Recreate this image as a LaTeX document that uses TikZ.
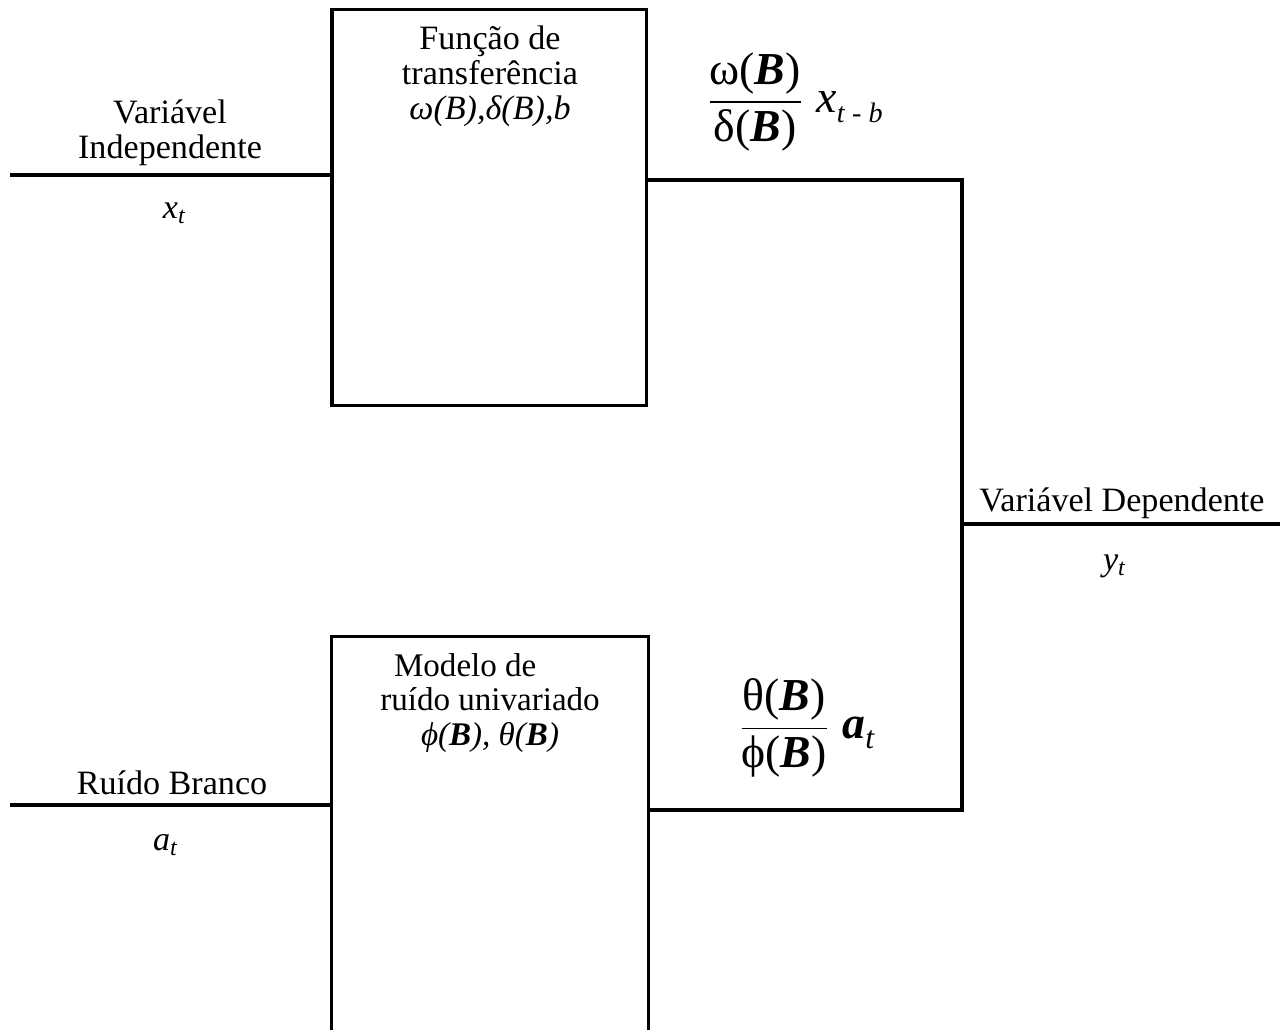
\documentclass[tikz,border=0pt]{standalone}
\usepackage{amsmath}
\usepackage{fontspec}
\setmainfont{Liberation Serif}
\usetikzlibrary{positioning}

\tikzset{
  blockbox/.style={draw, line width=0.9pt, inner sep=0pt},
  wire/.style={line width=0.9pt},
  lbl/.style={font=\fontsize{9.7}{10}\selectfont, align=center, inner sep=1pt},
  fraclbl/.style={font=\fontsize{13}{14}\selectfont, inner sep=1pt},
}
\newcommand{\bB}{\textbf{\textit{B}}}

\begin{document}
\begin{tikzpicture}[x=0.01cm, y=-0.01cm]
        % frame of the picture (the lower block runs off the bottom edge)
        \clip (0,0) rectangle (1280,1029);

        % 1. The two blocks
        \node[blockbox, minimum width=3.14cm, minimum height=3.95cm] (transf) at (489,207.5) {};
        \node[blockbox, minimum width=3.16cm, minimum height=4.63cm] (ruido) at (490,868.5) {};

        % 2. Free ends and corners of the wires
        \coordinate (xin) at (10,175);
        \coordinate (ain) at (10,805);
        \coordinate (topcorner) at (962,180);
        \coordinate (botcorner) at (962,810);
        \coordinate (junc) at (962,524);
        \coordinate (yout) at (1280,524);

        % 3. Wires
        \draw[wire] (xin) -- (xin -| transf.west);
        \draw[wire] (ain) -- (ain -| ruido.west);
        \draw[wire] (transf.east |- topcorner) -- (topcorner) -- (botcorner) -- (ruido.east |- botcorner);
        \draw[wire] (junc) -- (yout);

        % 4. Input and output labels
        \node[lbl] (xname) at (170,133) {Variável\\Independente};
        \node[lbl] (xt) at (175,213) {\textit{x}\textsubscript{\textit{t}}};
        \node[lbl] (aname) at (172,783) {Ruído Branco};
        \node[lbl] (at) at (166,845) {\textit{a}\textsubscript{\textit{t}}};
        \node[lbl] (yname) at (1122,503) {Variável Dependente};
        \node[lbl] (yt) at (1115,566) {\textit{y}\textsubscript{\textit{t}}};

        % 5. Text inside the blocks
        \node[lbl] (transftxt) at (490,76) {Função de\\transferência\\\textit{ω(B),δ(B),b}};
        \node[lbl, font=\fontsize{9.4}{9.8}\selectfont] (ruidotxt) at (490,703)
          {Modelo de\hspace*{1.5em}\\ruído univariado\\\textit{ϕ(\bB), θ(\bB)}};

        % 6. Block outputs
        \node[fraclbl] (wfrac) at (794,102)
          {$\dfrac{\mbox{ω(\bB)}}{\mbox{δ(\bB)}}\;\mbox{\textit{x}\raisebox{-0.45ex}{\fontsize{8}{8}\selectfont\textit{t} - \textit{b}}}$};
        \node[fraclbl] (tfrac) at (806,728)
          {$\dfrac{\mbox{θ(\bB)}}{\mbox{ϕ(\bB)}}\;\mbox{\textbf{\textit{a}}\raisebox{-0.45ex}{\fontsize{9}{9}\selectfont\textit{t}}}$};
\end{tikzpicture}
\end{document}
